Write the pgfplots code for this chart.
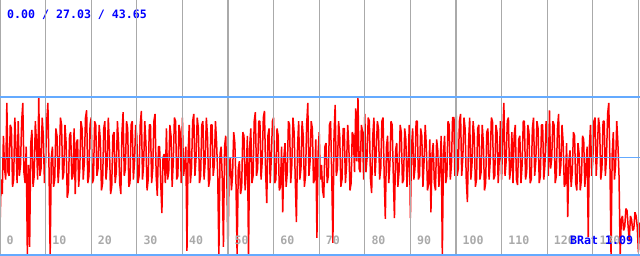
\documentclass[border=0pt]{standalone}
\usepackage{pgfplots}
\pgfplotsset{compat=1.18}
\usepackage{fontspec}
\newfontfamily\mono{DejaVu Sans Mono}
\definecolor{gridgray}{RGB}{170,170,170}
\definecolor{lineblue}{RGB}{100,170,255}
\definecolor{txtblue}{RGB}{0,0,255}
\newcommand{\lbl}{\mono\bfseries\fontsize{11.6}{12}\selectfont}
\begin{document}
\begin{tikzpicture}
\begin{axis}[
  width=640pt, height=256pt, scale only axis,
  xmin=0, xmax=140.35, ymin=0, ymax=70.28,
  axis line style={draw=none}, tick style={draw=none},
  xtick={0,10,...,140}, ytick={0.3,27.03,43.65},
  xticklabels={}, yticklabels={},
  xmajorgrids, ymajorgrids,
  x grid style={gridgray, line width=1.2pt},
  y grid style={lineblue, line width=1.2pt},
  axis on top,
]
\addplot[red, line width=1.5pt, line join=bevel] table[header=false, row sep=\\, x expr=\coordindex*0.25, y index=0] {
7.7\\ 21\\ 17\\ 33\\ 24\\ 21\\ 42\\ 23\\ 22\\ 36\\ 35\\ 19\\ 21\\ 38\\ 30\\ 20\\ 37\\ 22\\ 25\\ 37\\ 42\\ 23\\ 20\\ 30\\ 0\\ 25\\ 2.5\\ 31\\ 34.6\\ 19\\ 22\\ 37\\ 31\\ 21\\ 43.5\\ 22\\ 24\\ 38\\ 33\\ 20\\
26\\ 37\\ 42\\ 24\\ 0\\ 27\\ 30\\ 19\\ 21\\ 35\\ 33\\ 20\\ 25\\ 38\\ 36\\ 21\\ 23\\ 36\\ 31\\ 16\\ 18\\ 33\\ 34\\ 21\\ 22\\ 35\\ 17\\ 31\\ 32\\ 19\\ 24\\ 37\\ 35\\ 21\\ 26\\ 38\\ 40\\ 20\\ 22\\ 36\\
38\\ 20\\ 21\\ 37\\ 36\\ 22\\ 24\\ 36\\ 32\\ 18\\ 20\\ 35\\ 37\\ 21\\ 25\\ 38\\ 30\\ 17\\ 19\\ 33\\ 34\\ 20\\ 23\\ 37\\ 31\\ 20\\ 17\\ 34\\ 39.5\\ 22\\ 24\\ 37\\ 35\\ 19\\ 20\\ 36\\ 37\\ 21\\ 26\\ 36\\
33\\ 20\\ 22\\ 36\\ 39.8\\ 21\\ 25\\ 37\\ 31\\ 18\\ 21\\ 36\\ 36\\ 20\\ 24\\ 37\\ 39\\ 22\\ 16.5\\ 30\\ 30\\ 20\\ 11.8\\ 27\\ 28\\ 20\\ 35\\ 21\\ 23\\ 36\\ 33\\ 19\\ 26\\ 38\\ 37\\ 21\\ 22\\ 36\\ 34\\ 20\\
38\\ 22\\ 25\\ 30\\ 1.4\\ 28\\ 36\\ 20\\ 24\\ 37\\ 39\\ 22\\ 27\\ 38\\ 35\\ 20\\ 22\\ 36\\ 37\\ 21\\ 26\\ 38\\ 33\\ 19\\ 21\\ 36\\ 36\\ 22\\ 25\\ 37\\ 31\\ 22\\ 0\\ 28\\ 30\\ 21\\ 2.5\\ 30\\ 33\\ 21\\
0\\ 25\\ 27\\ 18\\ 22\\ 34\\ 31\\ 20\\ 0\\ 24\\ 26\\ 17\\ 19\\ 34\\ 33\\ 18\\ 23\\ 33\\ 0\\ 30\\ 35\\ 20\\ 22\\ 37\\ 39.5\\ 22\\ 24\\ 37\\ 37\\ 21\\ 26\\ 38\\ 39.8\\ 23\\ 14.5\\ 33\\ 35\\ 20\\ 27\\ 37\\
38\\ 20\\ 21\\ 35\\ 33\\ 18\\ 19\\ 30\\ 12\\ 27\\ 31\\ 19\\ 23\\ 37\\ 36\\ 20\\ 25\\ 38\\ 34\\ 21\\ 9.3\\ 30\\ 37\\ 21\\ 24\\ 37\\ 33\\ 19\\ 22\\ 36\\ 42\\ 22\\ 26\\ 37\\ 35\\ 20\\ 21\\ 32\\ 5\\ 28\\
34\\ 21\\ 25\\ 18\\ 16\\ 30\\ 31\\ 20\\ 22\\ 36\\ 37\\ 22\\ 3.6\\ 33\\ 41.5\\ 22\\ 24\\ 37\\ 33\\ 19\\ 21\\ 35\\ 35\\ 20\\ 25\\ 36\\ 30\\ 18\\ 20\\ 34\\ 33\\ 23\\ 40.5\\ 26\\ 43.5\\ 24\\ 23\\ 36\\ 34\\ 21\\
39\\ 23\\ 27\\ 38\\ 37\\ 21\\ 17.3\\ 33\\ 38\\ 22\\ 28\\ 37\\ 35\\ 21\\ 24\\ 37\\ 38\\ 22\\ 10.2\\ 30\\ 33\\ 20\\ 25\\ 37\\ 36\\ 22\\ 10.4\\ 29\\ 31\\ 19\\ 23\\ 36\\ 34\\ 20\\ 21\\ 35\\ 32\\ 19\\ 25\\ 36\\
10.4\\ 30\\ 35\\ 21\\ 24\\ 37\\ 37\\ 21\\ 22\\ 35\\ 33\\ 19\\ 26\\ 36\\ 30\\ 18\\ 20\\ 32\\ 12\\ 28\\ 31\\ 20\\ 18\\ 32\\ 29\\ 19\\ 24\\ 33\\ 0\\ 28\\ 33\\ 20\\ 22\\ 37\\ 36\\ 21\\ 25\\ 38\\ 38\\ 22\\
43\\ 22\\ 24\\ 37\\ 39\\ 22\\ 27\\ 38\\ 35\\ 21\\ 14.8\\ 31\\ 38\\ 21\\ 25\\ 37\\ 33\\ 19\\ 21\\ 35\\ 36\\ 21\\ 23\\ 36\\ 31\\ 18\\ 20\\ 34\\ 35\\ 21\\ 26\\ 38\\ 37\\ 21\\ 22\\ 36\\ 34\\ 20\\ 27\\ 37\\
21\\ 33\\ 42\\ 22\\ 26\\ 37\\ 38\\ 21\\ 24\\ 34\\ 20\\ 33\\ 36\\ 21\\ 19.5\\ 32\\ 33\\ 20\\ 25\\ 37\\ 37\\ 21\\ 23\\ 36\\ 34\\ 20\\ 21\\ 35\\ 38\\ 22\\ 26\\ 37\\ 35\\ 20\\ 22\\ 36\\ 36\\ 21\\ 25\\ 37\\
33\\ 22\\ 40\\ 24\\ 27\\ 37\\ 36\\ 20\\ 22\\ 35\\ 39\\ 22\\ 25\\ 36\\ 31\\ 19\\ 20\\ 31\\ 10.7\\ 26\\ 29\\ 19\\ 23\\ 34\\ 33\\ 20\\ 18\\ 31\\ 28\\ 18\\ 21\\ 33\\ 32\\ 19\\ 24\\ 30\\ 5.2\\ 30\\ 36\\ 22\\
26\\ 37\\ 38\\ 22\\ 29\\ 38\\ 35\\ 21\\ 24\\ 37\\ 37\\ 22\\ 27\\ 39\\ 42\\ 26\\ 0\\ 28\\ 34\\ 21\\ 25\\ 37\\ 31\\ 22\\
0\\ 10\\ 11\\ 7\\ 8\\ 13\\ 12.5\\ 8\\ 4\\ 11\\ 10\\ 7\\ 7.5\\ 12\\ 11\\ 8\\ 1\\ 9\\ 9\\
};
\coordinate (SW) at (rel axis cs:0,0);
\coordinate (NE) at (rel axis cs:1,1);
\pgfplotsinvokeforeach{0,10,...,130}{
  \node[anchor=base west, inner sep=0pt, xshift=6.5pt, yshift=11pt, text=gridgray, font=\lbl] at (axis cs:#1,0) {#1};
}
\node[anchor=base west, inner sep=0pt, yshift=11pt, text=txtblue, font=\lbl] at (axis cs:125,0) {BRat 1.09};
\node[anchor=base west, inner sep=0pt, xshift=7pt, yshift=-19pt, text=txtblue, font=\lbl] at (rel axis cs:0,1) {0.00 / 27.03 / 43.65};
\end{axis}
\pgfresetboundingbox
\useasboundingbox (SW) rectangle (NE);
\end{tikzpicture}
\end{document}
